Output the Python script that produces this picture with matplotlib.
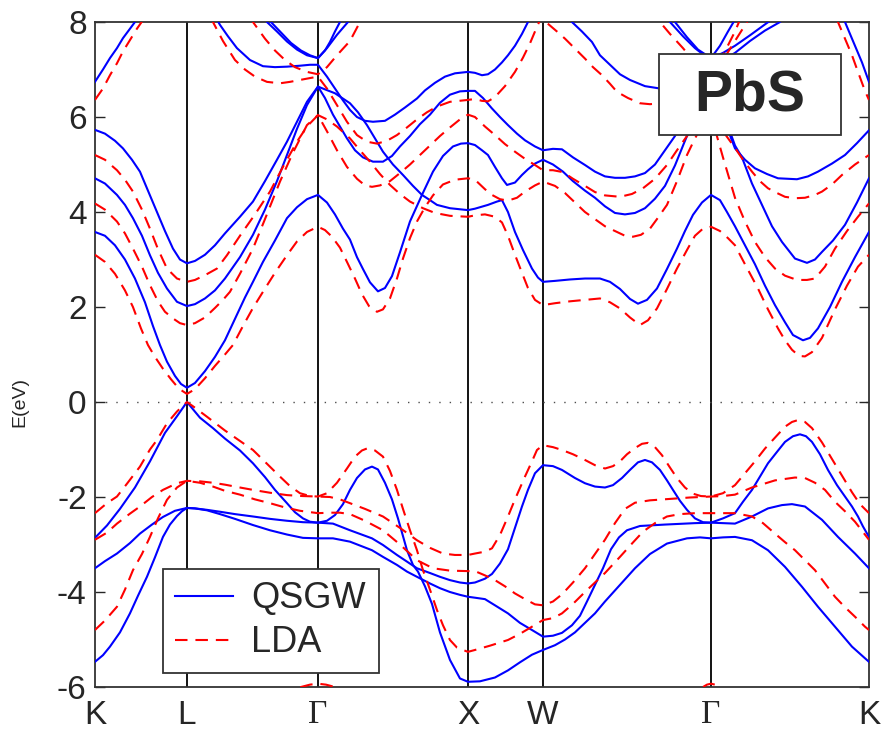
import matplotlib
matplotlib.use("Agg")
import matplotlib.pyplot as plt
from matplotlib.patches import Rectangle

plt.rcParams['font.family'] = ['Liberation Sans', 'DejaVu Sans']
plt.rcParams['axes.unicode_minus'] = False

# k-path positions of the symmetry points
sym_pos = [0, 92, 223, 373, 448, 616, 774]
sym_labels = ['K', 'L', 'Γ', 'X', 'W', 'Γ', 'K']

# QSGW bands (k, E in eV)
gw_v1 = [(0, -5.47), (8, -5.33), (15, -5.15), (25, -4.85), (35, -4.45), (43, -4.08), (52, -3.68),
         (60, -3.27), (68, -2.84), (75, -2.58), (82, -2.4), (87, -2.3), (92, -2.23),
         (100, -2.24), (112, -2.28), (125, -2.36), (140, -2.46), (158, -2.59), (175, -2.7),
         (192, -2.79), (208, -2.86), (223, -2.87),
         (238, -2.87), (255, -2.94), (277, -3.12), (288, -3.26), (302, -3.43), (312, -3.57),
         (322, -3.68), (335, -3.82), (345, -3.92), (355, -4.0), (365, -4.06), (373, -4.1),
         (380, -4.12), (390, -4.15), (400, -4.28), (413, -4.45), (425, -4.65), (437, -4.8), (448, -4.94),
         (458, -4.92), (467, -4.86), (477, -4.7), (485, -4.5), (492, -4.2), (500, -3.85), (508, -3.5),
         (516, -3.1), (524, -2.85), (532, -2.7), (545, -2.61), (570, -2.58), (600, -2.55), (616, -2.54),
         (628, -2.55), (640, -2.56), (657, -2.41), (673, -2.24), (687, -2.17), (697, -2.15),
         (710, -2.2), (727, -2.48), (743, -2.84), (760, -3.19), (774, -3.5)]
gw_v2 = [(0, -3.5), (10, -3.35), (22, -3.19), (35, -2.97), (45, -2.77), (57, -2.58), (68, -2.42),
         (80, -2.29), (92, -2.23),
         (100, -2.24), (112, -2.27), (125, -2.31), (140, -2.36), (158, -2.41), (175, -2.46),
         (192, -2.5), (208, -2.53), (223, -2.54),
         (238, -2.56), (255, -2.7), (277, -2.87), (288, -3.01), (302, -3.22), (312, -3.36),
         (322, -3.5), (335, -3.6), (345, -3.68), (355, -3.75), (365, -3.8), (373, -3.82),
         (380, -3.8), (390, -3.72), (397, -3.62), (405, -3.4), (413, -3.1), (420, -2.65), (427, -2.2),
         (433, -1.85), (440, -1.5), (448, -1.33),
         (458, -1.35), (467, -1.43), (480, -1.6), (490, -1.71), (500, -1.78), (510, -1.8), (518, -1.75),
         (527, -1.6), (535, -1.43), (543, -1.27), (550, -1.22), (557, -1.27), (565, -1.43), (572, -1.65),
         (578, -1.85), (585, -2.08), (592, -2.27), (600, -2.45), (608, -2.53), (616, -2.54),
         (628, -2.45), (640, -2.34), (648, -2.1), (657, -1.85), (665, -1.57), (673, -1.29), (682, -1.05),
         (690, -0.84), (698, -0.72), (705, -0.68), (711, -0.72), (717, -0.84), (725, -1.1), (733, -1.43),
         (742, -1.75), (750, -1.99), (757, -2.2), (763, -2.41), (768, -2.62), (774, -2.84)]
gw_v3 = [(0, -2.86), (12, -2.6), (25, -2.25), (40, -1.8), (55, -1.25), (70, -0.65), (82, -0.3), (92, 0.0),
         (105, -0.33), (118, -0.55), (130, -0.77), (145, -1.02), (158, -1.29), (170, -1.58), (180, -1.85),
         (192, -2.13), (200, -2.32), (208, -2.45), (215, -2.52), (223, -2.54),
         (232, -2.5), (240, -2.38), (248, -2.15), (255, -1.85), (262, -1.6), (270, -1.42), (277, -1.36),
         (283, -1.42), (290, -1.7), (297, -2.05), (303, -2.45), (312, -3.12), (318, -3.43), (323, -3.57),
         (330, -3.88), (337, -4.25), (345, -4.85), (355, -5.43), (365, -5.82), (373, -5.89),
         (385, -5.88), (400, -5.8), (413, -5.65), (425, -5.48), (437, -5.32), (448, -5.22),
         (460, -5.12), (470, -5.0), (480, -4.85), (490, -4.65), (500, -4.45), (510, -4.2), (525, -3.85),
         (540, -3.5), (555, -3.2), (572, -2.98), (592, -2.87), (605, -2.85), (616, -2.87),
         (628, -2.85), (640, -2.84), (657, -2.91), (673, -3.12), (690, -3.47), (707, -3.89),
         (723, -4.31), (740, -4.73), (757, -5.15), (774, -5.47)]
gw_c1 = [(0, 3.58), (10, 3.5), (20, 3.3), (30, 3.0), (40, 2.6), (50, 2.1), (58, 1.6), (65, 1.2),
         (72, 0.85), (80, 0.55), (86, 0.38), (92, 0.3),
         (100, 0.4), (110, 0.65), (120, 0.95), (130, 1.3), (140, 1.75), (150, 2.2), (158, 2.53),
         (168, 2.95), (180, 3.4), (192, 3.87), (202, 4.1), (212, 4.27), (223, 4.36),
         (232, 4.2), (240, 3.95), (248, 3.65), (255, 3.42), (262, 3.05), (268, 2.8), (275, 2.52),
         (283, 2.33), (290, 2.4), (297, 2.65), (305, 3.15), (315, 3.8), (327, 4.36), (338, 4.85),
         (348, 5.18), (358, 5.38), (366, 5.44), (373, 5.45),
         (380, 5.41), (387, 5.3), (393, 5.2), (400, 4.95), (407, 4.71), (412, 4.57), (420, 4.62),
         (427, 4.78), (433, 4.9), (440, 5.02), (448, 5.1),
         (458, 5.0), (468, 4.85), (478, 4.65), (490, 4.45), (500, 4.3), (510, 4.12), (520, 3.98),
         (530, 3.95), (540, 3.98), (550, 4.08), (560, 4.28), (570, 4.55), (580, 4.98), (590, 5.5),
         (600, 6.0), (608, 6.35), (616, 6.64),
         (628, 6.0), (640, 5.34), (650, 5.1), (660, 4.92), (672, 4.8), (683, 4.71), (702, 4.69),
         (713, 4.75), (723, 4.85), (737, 5.02), (750, 5.2), (762, 5.45), (774, 5.72)]
gw_c2 = [(0, 4.71), (10, 4.6), (22, 4.36), (30, 4.15), (38, 3.87), (47, 3.5), (55, 3.09), (63, 2.72),
         (72, 2.39), (82, 2.11), (92, 2.02),
         (100, 2.06), (110, 2.18), (120, 2.35), (130, 2.6), (145, 3.05), (158, 3.52), (170, 4.05),
         (182, 4.65), (192, 5.2), (202, 5.75), (212, 6.25), (223, 6.64),
         (240, 6.5), (255, 6.29), (263, 6.1), (272, 5.83), (280, 5.55), (288, 5.27), (298, 5.0),
         (308, 4.78), (318, 4.55), (327, 4.36), (335, 4.25), (342, 4.15), (355, 4.08), (373, 4.04),
         (380, 4.07), (393, 4.15), (402, 4.22), (407, 4.25), (413, 4.0), (420, 3.58), (428, 3.2),
         (437, 2.81), (443, 2.62), (448, 2.53),
         (460, 2.55), (475, 2.58), (490, 2.6), (505, 2.6), (515, 2.53), (525, 2.38), (535, 2.17),
         (543, 2.07), (552, 2.15), (562, 2.39), (572, 2.8), (582, 3.23), (590, 3.6), (598, 3.94),
         (607, 4.2), (616, 4.36),
         (625, 4.25), (632, 4.0), (640, 3.7), (650, 3.3), (660, 2.9), (670, 2.45), (680, 2.04),
         (690, 1.68), (698, 1.41), (708, 1.3), (715, 1.35), (723, 1.55), (735, 2.0), (747, 2.53),
         (760, 3.05), (774, 3.58)]
gw_c3 = [(0, 5.73), (10, 5.65), (20, 5.5), (28, 5.34), (37, 5.1), (45, 4.85), (53, 4.45), (62, 4.0),
         (70, 3.6), (78, 3.23), (85, 3.0), (92, 2.92),
         (100, 2.97), (110, 3.1), (120, 3.3), (130, 3.55), (145, 3.9), (158, 4.22), (170, 4.65),
         (182, 5.1), (192, 5.48), (202, 5.9), (212, 6.32), (223, 6.64),
         (230, 6.4), (238, 6.05), (245, 5.8), (252, 5.55), (260, 5.3), (268, 5.15), (278, 5.06),
         (288, 5.06), (297, 5.18), (305, 5.38), (315, 5.6), (325, 5.85), (335, 6.05), (345, 6.3),
         (355, 6.47), (365, 6.54), (373, 6.55),
         (380, 6.55), (388, 6.4), (397, 6.18), (405, 6.0), (413, 5.83), (422, 5.65), (430, 5.51),
         (440, 5.38), (448, 5.3),
         (458, 5.33), (467, 5.32), (478, 5.15), (490, 4.99), (500, 4.85), (510, 4.75), (520, 4.72),
         (530, 4.72), (540, 4.75), (550, 4.82), (560, 5.0), (570, 5.3), (580, 5.6), (590, 5.95),
         (600, 6.25), (608, 6.45), (616, 6.64),
         (628, 6.1), (640, 5.4), (647, 5.15), (657, 4.6), (667, 4.15), (677, 3.7), (687, 3.37),
         (700, 3.02), (712, 2.93), (720, 3.0), (727, 3.16), (738, 3.4), (750, 3.73), (762, 4.2),
         (774, 4.71)]
gw_c4 = [(0, 6.74), (8, 7.0), (15, 7.24), (22, 7.45), (28, 7.66), (34, 7.83), (40, 8.0), (50, 8.4),
         (70, 9.0), (92, 9.3),
         (110, 8.6), (118, 8.2), (125, 7.94), (133, 7.7), (142, 7.45), (155, 7.2), (168, 7.07),
         (180, 7.05), (192, 7.06), (205, 7.08), (215, 7.1), (223, 7.1),
         (232, 6.85), (240, 6.6), (248, 6.35), (255, 6.15), (262, 6.0), (270, 5.92), (278, 5.9),
         (290, 5.92), (300, 6.05), (310, 6.2), (322, 6.39), (330, 6.56), (340, 6.72), (350, 6.85),
         (360, 6.92), (373, 6.95),
         (380, 6.93), (387, 6.88), (393, 6.9), (400, 7.0), (407, 7.15), (413, 7.3), (420, 7.5),
         (427, 7.75), (433, 8.0), (440, 8.3), (448, 8.6),
         (460, 8.4), (470, 8.2), (477, 8.0), (487, 7.8), (497, 7.58), (505, 7.3), (515, 7.1),
         (525, 6.9), (535, 6.78), (550, 6.65), (565, 6.6), (580, 6.7), (595, 6.85), (605, 7.0), (616, 7.1),
         (628, 7.2), (640, 7.35), (655, 7.6), (670, 7.82), (685, 8.0), (700, 8.4), (730, 8.5),
         (745, 8.2), (750, 8.0), (755, 7.75), (760, 7.5), (767, 7.15), (774, 6.74)]
gw_c5 = [(0, 9.5), (92, 10.0), (150, 8.8), (165, 8.3), (172, 8.0), (182, 7.8), (192, 7.59), (202, 7.42),
         (212, 7.3), (223, 7.24), (230, 7.4), (235, 7.58), (240, 7.8), (245, 8.0), (260, 8.8),
         (373, 9.5), (448, 9.5), (560, 8.6), (575, 8.0), (588, 7.7), (600, 7.45), (608, 7.32),
         (616, 7.24), (628, 7.35), (640, 7.5), (655, 7.72), (670, 7.95), (680, 8.1), (700, 8.6),
         (774, 9.5)]
gw_c6 = [(0, 9.8), (92, 10.2), (155, 8.8), (168, 8.3), (176, 8.0), (186, 7.78), (196, 7.56), (206, 7.4),
         (215, 7.3), (223, 7.24), (232, 7.45), (242, 7.73), (253, 8.0), (265, 8.6), (373, 9.8),
         (448, 9.8), (565, 8.6), (580, 8.0), (592, 7.68), (603, 7.42), (616, 7.24), (625, 7.5),
         (633, 7.8), (640, 8.05), (655, 8.7), (774, 10.0)]

# LDA bands (k, E in eV)
lda_v0 = [(0, -7.5), (150, -7.2), (180, -6.5), (193, -6.15), (206, -6.0), (215, -5.95), (223, -5.93),
          (231, -5.95), (240, -6.0), (253, -6.15), (266, -6.5), (300, -7.2), (373, -7.5), (448, -7.5),
          (560, -7.0), (586, -6.5), (599, -6.15), (608, -6.0), (612, -5.95), (616, -5.93), (620, -5.95),
          (624, -6.0), (633, -6.15), (646, -6.5), (680, -7.2), (774, -7.5)]
lda_v1 = [(0, -4.8), (10, -4.6), (22, -4.31), (30, -3.95), (38, -3.54), (47, -3.2), (55, -2.84),
          (63, -2.45), (72, -2.06), (82, -1.8), (92, -1.66),
          (105, -1.7), (118, -1.78), (130, -1.87), (145, -1.95), (160, -2.05), (175, -2.13),
          (190, -2.22), (205, -2.29), (223, -2.34),
          (235, -2.33), (245, -2.33), (255, -2.36), (270, -2.5), (288, -2.7), (305, -3.0), (322, -3.33),
          (338, -3.5), (355, -3.55), (373, -3.56),
          (380, -3.56), (390, -3.65), (400, -3.75), (410, -3.88), (420, -4.03), (430, -4.15),
          (440, -4.26), (448, -4.28),
          (458, -4.2), (467, -4.05), (478, -3.8), (490, -3.5), (500, -3.2), (510, -2.9), (520, -2.55),
          (530, -2.25), (540, -2.12), (555, -2.07), (575, -2.04), (595, -2.01), (616, -1.99),
          (628, -1.98), (640, -1.95), (657, -1.8), (680, -1.65), (700, -1.59), (710, -1.6), (720, -1.7),
          (730, -1.85), (740, -2.1), (750, -2.3), (760, -2.52), (774, -2.9)]
lda_v2 = [(0, -2.9), (12, -2.75), (22, -2.56), (35, -2.35), (45, -2.2), (57, -2.0), (68, -1.85),
          (82, -1.71), (92, -1.66),
          (105, -1.67), (118, -1.7), (130, -1.74), (145, -1.8), (158, -1.85), (175, -1.91), (192, -1.96),
          (208, -1.98), (223, -1.99),
          (235, -2.0), (245, -2.05), (255, -2.13), (270, -2.25), (288, -2.41), (305, -2.65), (322, -2.91),
          (335, -3.07), (348, -3.19), (360, -3.22), (373, -3.22),
          (380, -3.19), (390, -3.15), (397, -3.08), (405, -2.8), (413, -2.41), (420, -2.05), (430, -1.57),
          (437, -1.25), (442, -1.01), (448, -0.91),
          (458, -0.95), (467, -1.01), (478, -1.1), (490, -1.22), (500, -1.33), (510, -1.4), (518, -1.35),
          (525, -1.25), (532, -1.1), (540, -0.97), (547, -0.88), (553, -0.86), (560, -0.95),
          (567, -1.12), (575, -1.38), (582, -1.6), (590, -1.8), (598, -1.93), (606, -1.98), (616, -1.99),
          (628, -1.92), (640, -1.75), (650, -1.5), (660, -1.25), (670, -0.98), (680, -0.75),
          (690, -0.52), (697, -0.42), (703, -0.38), (710, -0.42), (717, -0.55), (727, -0.85),
          (737, -1.2), (747, -1.55), (757, -1.9), (765, -2.15), (774, -2.34)]
lda_v3 = [(0, -2.34), (12, -2.13), (22, -1.99), (32, -1.72), (45, -1.36), (55, -1.0), (62, -0.8),
          (72, -0.45), (82, -0.2), (92, 0.0),
          (100, -0.12), (112, -0.31), (130, -0.6), (145, -0.82), (158, -1.01), (172, -1.3), (185, -1.57),
          (195, -1.77), (205, -1.92), (215, -1.98), (223, -1.99),
          (232, -1.92), (242, -1.7), (252, -1.4), (260, -1.15), (267, -1.02), (273, -0.97), (280, -1.02),
          (288, -1.15), (295, -1.45), (302, -1.85), (308, -2.25), (315, -2.7), (322, -3.12),
          (328, -3.54), (335, -3.95), (342, -4.38), (348, -4.7), (355, -5.01), (362, -5.17),
          (368, -5.22), (373, -5.26),
          (380, -5.22), (395, -5.13), (413, -5.01), (425, -4.88), (437, -4.73), (448, -4.59),
          (458, -4.55), (467, -4.45), (478, -4.25), (490, -4.0), (500, -3.8), (510, -3.6), (525, -3.26),
          (537, -2.98), (548, -2.73), (560, -2.55), (572, -2.41), (585, -2.36), (600, -2.34), (616, -2.34),
          (628, -2.34), (640, -2.34), (657, -2.41), (668, -2.55), (680, -2.77), (690, -2.95),
          (700, -3.12), (710, -3.33), (720, -3.54), (730, -3.82), (740, -4.1), (750, -4.32),
          (760, -4.52), (770, -4.73), (774, -4.8)]
lda_c1 = [(0, 3.1), (10, 2.95), (20, 2.7), (30, 2.35), (38, 2.0), (46, 1.55), (53, 1.2), (60, 0.95),
          (68, 0.7), (76, 0.48), (84, 0.28), (92, 0.17),
          (100, 0.27), (110, 0.5), (120, 0.76), (130, 1.0), (138, 1.2), (148, 1.6), (158, 1.98),
          (168, 2.32), (180, 2.72), (192, 3.09), (202, 3.38), (212, 3.58), (223, 3.69),
          (230, 3.62), (237, 3.48), (245, 3.25), (252, 2.95), (260, 2.6), (267, 2.27), (274, 2.02),
          (282, 1.9), (288, 1.95), (295, 2.18), (302, 2.6), (308, 3.02), (315, 3.45), (322, 3.8),
          (330, 4.1), (338, 4.35), (348, 4.58), (360, 4.68), (373, 4.71),
          (380, 4.68), (390, 4.48), (397, 4.36), (405, 4.27), (413, 4.24), (422, 4.3), (430, 4.43),
          (440, 4.56), (448, 4.64),
          (460, 4.55), (470, 4.4), (480, 4.2), (490, 4.0), (500, 3.85), (510, 3.7), (522, 3.58),
          (530, 3.5), (538, 3.48), (546, 3.52), (555, 3.65), (563, 3.88), (572, 4.15), (582, 4.65),
          (592, 5.2), (600, 5.55), (608, 5.85), (616, 6.04),
          (628, 5.15), (640, 4.3), (650, 3.8), (660, 3.37), (670, 3.05), (680, 2.81), (690, 2.66),
          (702, 2.57), (712, 2.57), (720, 2.6), (730, 2.85), (740, 3.23), (752, 3.6), (763, 3.9),
          (774, 4.18)]
lda_c2 = [(0, 4.18), (10, 4.05), (22, 3.8), (30, 3.55), (38, 3.23), (47, 2.85), (55, 2.46), (63, 2.12),
          (70, 1.9), (78, 1.76), (85, 1.66), (92, 1.62),
          (100, 1.66), (110, 1.78), (120, 1.98), (128, 2.15), (135, 2.32), (145, 2.7), (158, 3.23),
          (170, 3.85), (185, 4.64), (198, 5.25), (212, 5.83), (223, 6.04),
          (232, 5.95), (242, 5.8), (255, 5.55), (265, 5.3), (275, 5.06), (285, 4.8), (295, 4.57),
          (305, 4.38), (315, 4.22), (328, 4.08), (340, 3.98), (355, 3.92), (373, 3.9),
          (380, 3.93), (390, 3.95), (400, 3.9), (407, 3.78), (413, 3.5), (420, 3.1), (427, 2.72),
          (433, 2.4), (440, 2.15), (448, 2.04),
          (460, 2.08), (475, 2.12), (490, 2.15), (505, 2.18), (515, 2.1), (525, 1.97), (535, 1.78),
          (545, 1.62), (553, 1.72), (562, 1.97), (572, 2.38), (582, 2.81), (592, 3.2), (600, 3.5),
          (608, 3.65), (616, 3.69),
          (625, 3.6), (633, 3.45), (640, 3.3), (650, 2.9), (663, 2.39), (673, 1.95), (683, 1.55),
          (690, 1.3), (697, 1.1), (704, 0.97), (710, 0.96), (717, 1.05), (727, 1.35), (740, 1.95),
          (752, 2.45), (763, 2.85), (774, 3.1)]
lda_c3 = [(0, 5.2), (10, 5.1), (22, 4.88), (30, 4.68), (38, 4.43), (47, 4.05), (55, 3.65), (63, 3.22),
          (72, 2.81), (82, 2.6), (92, 2.53),
          (100, 2.57), (110, 2.67), (122, 2.81), (132, 3.09), (145, 3.5), (160, 3.95), (175, 4.43),
          (188, 4.95), (202, 5.48), (212, 5.8), (223, 6.04),
          (232, 5.7), (242, 5.3), (252, 4.95), (262, 4.7), (270, 4.56), (277, 4.53), (285, 4.56),
          (295, 4.65), (305, 4.82), (315, 5.0), (325, 5.2), (335, 5.4), (345, 5.6), (355, 5.78),
          (365, 5.95), (373, 6.05),
          (380, 6.0), (390, 5.8), (400, 5.62), (410, 5.43), (420, 5.27), (430, 5.12), (440, 4.99),
          (448, 4.88),
          (458, 4.88), (468, 4.84), (478, 4.7), (490, 4.55), (500, 4.42), (510, 4.35), (525, 4.32),
          (537, 4.38), (548, 4.5), (560, 4.7), (572, 4.99), (582, 5.3), (592, 5.6), (600, 5.78),
          (608, 5.92), (616, 6.04),
          (628, 5.7), (640, 5.35), (648, 5.1), (657, 4.85), (665, 4.65), (673, 4.5), (682, 4.4),
          (690, 4.32), (700, 4.29), (710, 4.3), (720, 4.36), (727, 4.43), (737, 4.58), (747, 4.78),
          (760, 5.0), (774, 5.2)]
lda_c4 = [(0, 6.36), (8, 6.6), (15, 6.88), (22, 7.13), (28, 7.38), (35, 7.62), (42, 7.86), (50, 8.1),
          (70, 8.8), (92, 9.2),
          (105, 8.6), (112, 8.3), (118, 8.0), (128, 7.6), (140, 7.2), (150, 7.0), (160, 6.85),
          (172, 6.74), (185, 6.71), (195, 6.74), (205, 6.78), (215, 6.82), (223, 6.85),
          (232, 6.6), (242, 6.25), (252, 5.9), (262, 5.62), (272, 5.48), (282, 5.44), (292, 5.5),
          (302, 5.62), (312, 5.78), (322, 5.95), (332, 6.1), (342, 6.22), (355, 6.32), (373, 6.36),
          (380, 6.38), (387, 6.34), (393, 6.33), (400, 6.42), (410, 6.65), (420, 6.95), (428, 7.25),
          (435, 7.55), (443, 7.95), (448, 8.15),
          (452, 7.98), (462, 7.8), (470, 7.65), (480, 7.44), (490, 7.23), (498, 7.05), (507, 6.88),
          (515, 6.7), (522, 6.53), (533, 6.4), (545, 6.29), (555, 6.27), (565, 6.29), (578, 6.4),
          (590, 6.55), (603, 6.72), (616, 6.85),
          (628, 7.2), (640, 7.6), (652, 8.0), (665, 8.6), (735, 8.5), (743, 8.0), (750, 7.65),
          (757, 7.3), (763, 6.95), (770, 6.55), (774, 6.36)]
lda_c5 = [(0, 9.5), (92, 9.8), (145, 8.5), (158, 8.0), (170, 7.65), (180, 7.4), (190, 7.2), (200, 7.05),
          (212, 6.95), (223, 6.9), (232, 7.05), (242, 7.3), (255, 7.6), (265, 8.0), (275, 8.5),
          (373, 9.5), (448, 9.5), (555, 8.3), (565, 8.0), (575, 7.75), (588, 7.45), (600, 7.15),
          (608, 7.0), (616, 6.9), (628, 7.3), (640, 7.8), (650, 8.3), (774, 9.5)]

qsgw_bands = [gw_v1, gw_v2, gw_v3, gw_c1, gw_c2, gw_c3, gw_c4, gw_c5, gw_c6]
lda_bands = [lda_v0, lda_v1, lda_v2, lda_v3, lda_c1, lda_c2, lda_c3, lda_c4, lda_c5]

fig = plt.figure(figsize=(8.85, 7.29), dpi=100)
ax = fig.add_axes([0.1073, 0.0576, 0.8746, 0.9122])

for x in sym_pos[1:-1]:
    ax.axvline(x, color='black', lw=1.3, zorder=1)
ax.axhline(0, color='0.3', lw=1.0, ls=(0, (1, 6.5)), zorder=1)

for i, band in enumerate(qsgw_bands):
    k, e = zip(*band)
    ax.plot(k, e, color='#0000ff', lw=1.5, zorder=3, label='QSGW' if i == 0 else None)
for i, band in enumerate(lda_bands):
    k, e = zip(*band)
    ax.plot(k, e, color='#ff0000', lw=1.5, ls=(0, (6, 3.8)), zorder=4,
            label='LDA' if i == 0 else None)

ax.set_xlim(sym_pos[0], sym_pos[-1])
ax.set_ylim(-6, 8)
ax.set_yticks(range(-6, 9, 2))
ax.set_xticks(sym_pos)
ax.set_xticklabels(sym_labels)
for lab in ax.get_xticklabels():
    if lab.get_text() == 'Γ':
        lab.set_fontfamily(['Liberation Serif', 'DejaVu Serif'])
ax.tick_params(axis='both', direction='in', length=7, width=1.0, labelsize=24,
               colors='#262626', right=True, top=False)
ax.tick_params(axis='x', pad=9, length=0)
ax.tick_params(axis='y', pad=6)
for s in ax.spines.values():
    s.set_linewidth(1.3)
    s.set_color('#333333')

fig.text(20 / 885, 1 - 402 / 729, 'E(eV)', rotation=90, ha='center', va='center',
         fontsize=14, color='#262626')

leg = ax.legend(loc='lower left', bbox_to_anchor=(0.0877, 0.021), borderaxespad=0,
                fontsize=26, handlelength=1.6, handletextpad=0.5, borderpad=0.35,
                labelspacing=0.25, fancybox=False, framealpha=1)
leg.get_frame().set_edgecolor('#333333')
leg.get_frame().set_linewidth(1.3)
for t in leg.get_texts():
    t.set_color('#262626')
leg.set_zorder(10)

ax.add_patch(Rectangle((0.729, 0.830), 0.235, 0.122, transform=ax.transAxes,
                       facecolor='white', edgecolor='#333333', lw=1.3, zorder=8))
ax.text(0.8465, 0.889, 'PbS', transform=ax.transAxes, ha='center', va='center',
        fontsize=41, fontweight='bold', color='#262626', zorder=9)

fig.savefig('out.png', dpi=100)
